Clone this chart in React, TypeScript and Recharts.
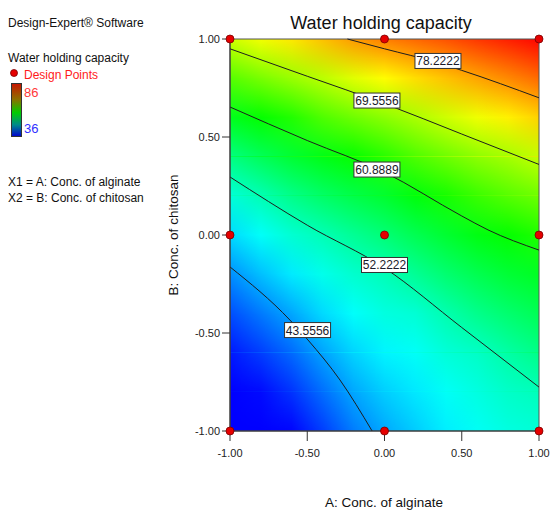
import React from "react";
import {
  ComposedChart,
  XAxis,
  YAxis,
  Line,
  Scatter,
  ReferenceArea,
  ReferenceDot,
} from "recharts";

const FONT = '"Liberation Sans", Arial, sans-serif';

// coded factor levels of the response grid
const gridX = [-1, -0.8, -0.6, -0.4, -0.2, 0, 0.2, 0.4, 0.6, 0.8, 1];
const gridY = [1, 0.8, 0.6, 0.4, 0.2, 0, -0.2, -0.4, -0.6, -0.8, -1];

// water holding capacity, one row per gridY value
const surface = [
  [71.0, 72.9, 74.6, 76.5, 78.4, 79.8, 80.9, 82.0, 83.3, 84.5, 85.7],
  [65.2, 66.9, 68.5, 70.1, 72.0, 73.6, 75.1, 76.5, 77.9, 79.3, 80.8],
  [59.6, 61.2, 62.6, 64.8, 66.4, 67.8, 69.4, 71.1, 72.7, 74.2, 75.7],
  [54.7, 56.7, 58.5, 59.9, 61.3, 62.9, 64.8, 66.4, 67.9, 69.1, 70.6],
  [50.4, 52.2, 54.3, 56.0, 57.4, 58.7, 60.4, 62.1, 63.8, 65.2, 66.4],
  [46.7, 48.8, 50.7, 52.1, 53.7, 55.2, 57.0, 58.6, 60.1, 61.2, 62.4],
  [43.0, 45.4, 47.5, 49.5, 50.9, 52.0, 53.7, 55.5, 57.1, 58.4, 59.3],
  [39.8, 42.0, 44.2, 46.7, 48.7, 50.0, 50.6, 52.4, 54.2, 55.6, 56.9],
  [37.2, 39.0, 41.2, 44.0, 46.4, 48.0, 48.9, 50.4, 51.3, 52.9, 54.4],
  [35.5, 36.5, 38.5, 41.4, 44.2, 46.1, 47.4, 48.9, 50.0, 51.2, 51.9],
  [34.0, 34.5, 36.2, 39.0, 42.1, 44.3, 46.0, 47.7, 49.0, 50.0, 50.5],
];

// contour lines
const contour78 = [
  { x: -0.24, y: 1.0 },
  { x: 0, y: 0.95 },
  { x: 0.34, y: 0.88 },
  { x: 0.5, y: 0.84 },
  { x: 1, y: 0.7 },
];
const contour70 = [
  { x: -1, y: 0.95 },
  { x: -0.5, y: 0.81 },
  { x: 0, y: 0.67 },
  { x: 0.5, y: 0.515 },
  { x: 1, y: 0.36 },
];
const contour61 = [
  { x: -1, y: 0.653 },
  { x: -0.5, y: 0.482 },
  { x: 0, y: 0.32 },
  { x: 0.5, y: 0.097 },
  { x: 0.67, y: 0.026 },
  { x: 1, y: -0.077 },
];
const contour52 = [
  { x: -1, y: 0.296 },
  { x: -0.5, y: 0.05 },
  { x: 0, y: -0.168 },
  { x: 0.5, y: -0.472 },
  { x: 1, y: -0.776 },
];
const contour44 = [
  { x: -1, y: -0.163 },
  { x: -0.612, y: -0.434 },
  { x: -0.495, y: -0.536 },
  { x: -0.288, y: -0.74 },
  { x: -0.08, y: -1.0 },
];
const contours = [contour78, contour70, contour61, contour52, contour44];

const contourLabels = [
  { x: 0.346, y: 0.888, text: "78.2222" },
  { x: -0.049, y: 0.686, text: "69.5556" },
  { x: -0.049, y: 0.334, text: "60.8889" },
  { x: 0.0, y: -0.153, text: "52.2222" },
  { x: -0.498, y: -0.485, text: "43.5556" },
];

const designPoints = [
  { x: -1, y: 1 },
  { x: 0, y: 1 },
  { x: 1, y: 1 },
  { x: -1, y: 0 },
  { x: 0, y: 0 },
  { x: 1, y: 0 },
  { x: -1, y: -1 },
  { x: 0, y: -1 },
  { x: 1, y: -1 },
];

const axisTicks = [-1, -0.5, 0, 0.5, 1];

const colorStops: [number, number[]][] = [
  [36, [0, 0, 255]],
  [48.5, [0, 255, 255]],
  [61, [0, 255, 0]],
  [73.5, [255, 255, 0]],
  [86, [255, 0, 0]],
];

function heatColor(v: number) {
  const t = Math.max(36, Math.min(86, v));
  for (let i = 0; i < colorStops.length - 1; i++) {
    const [a, ca] = colorStops[i];
    const [b, cb] = colorStops[i + 1];
    if (t <= b) {
      const f = (t - a) / (b - a);
      const c = ca.map((k, j) => Math.round(k + (cb[j] - k) * f));
      return `rgb(${c[0]},${c[1]},${c[2]})`;
    }
  }
  return "rgb(255,0,0)";
}

function Strip(props: any) {
  const { x, y, width, height, index } = props;
  return (
    <g shapeRendering="crispEdges">
      <rect x={x} y={y} width={width} height={height} fill={`url(#row${index})`} />
      <rect
        x={x}
        y={y}
        width={width}
        height={height}
        fill={`url(#row${index + 1})`}
        mask="url(#fadeMask)"
      />
    </g>
  );
}

function LabelBox(props: any) {
  const { cx, cy, text } = props;
  return (
    <g>
      <rect x={cx - 23} y={cy - 7.5} width={46} height={15} fill="#fff" stroke="#333" strokeWidth={1} />
      <text
        x={cx}
        y={cy + 4.5}
        textAnchor="middle"
        fontSize={12}
        fontFamily={FONT}
        fill="#1a1a2a"
      >
        {text}
      </text>
    </g>
  );
}

function DesignDot(props: any) {
  const { cx, cy } = props;
  return <circle cx={cx} cy={cy} r={4} fill="#e60000" stroke="#7a0000" strokeWidth={0.8} />;
}

export default function App() {
  const tickStyle = { fontSize: 11, fill: "#222", fontFamily: FONT };
  return (
    <div style={{ position: "absolute", left: 0, top: 0, width: 550, height: 512 }}>
      <ComposedChart
        width={550}
        height={512}
        margin={{ top: 39, right: 11, bottom: 51, left: 170 }}
      >
        <defs>
          {surface.map((row, i) => (
            <linearGradient id={`row${i}`} key={i} x1="0" y1="0" x2="1" y2="0">
              {row.map((v, j) => (
                <stop key={j} offset={(gridX[j] + 1) / 2} stopColor={heatColor(v)} />
              ))}
            </linearGradient>
          ))}
          <linearGradient id="fadeDown" x1="0" y1="0" x2="0" y2="1">
            <stop offset="0" stopColor="#fff" stopOpacity={0} />
            <stop offset="1" stopColor="#fff" stopOpacity={1} />
          </linearGradient>
          <mask
            id="fadeMask"
            maskUnits="objectBoundingBox"
            maskContentUnits="objectBoundingBox"
            x="0"
            y="0"
            width="1"
            height="1"
            style={{ maskType: "alpha" } as any}
          >
            <rect x="0" y="0" width="1" height="1" fill="url(#fadeDown)" />
          </mask>
        </defs>
        <XAxis
          type="number"
          dataKey="x"
          domain={[-1, 1]}
          ticks={axisTicks}
          tickFormatter={(v) => v.toFixed(2)}
          tick={tickStyle}
          tickSize={10}
          tickMargin={8}
          height={30}
          stroke="#333"
        />
        <YAxis
          type="number"
          dataKey="y"
          domain={[-1, 1]}
          ticks={axisTicks}
          tickFormatter={(v) => v.toFixed(2)}
          tick={tickStyle}
          tickSize={8}
          tickMargin={2}
          width={60}
          stroke="#333"
        />
        {gridY.slice(0, -1).map((yTop, i) => (
          <ReferenceArea
            key={`strip${i}`}
            x1={-1}
            x2={1}
            y1={gridY[i + 1]}
            y2={yTop}
            shape={(p: any) => <Strip {...p} index={i} />}
          />
        ))}
        <ReferenceArea
          x1={-1}
          x2={1}
          y1={-1}
          y2={1}
          fill="none"
          fillOpacity={0}
          stroke="#555"
          strokeWidth={1}
        />
        {contours.map((c, i) => (
          <Line
            key={`c${i}`}
            data={c}
            dataKey="y"
            type="monotone"
            stroke="#1e1e1e"
            strokeWidth={1}
            dot={false}
            activeDot={false}
            isAnimationActive={false}
          />
        ))}
        {contourLabels.map((l) => (
          <ReferenceDot
            key={l.text}
            x={l.x}
            y={l.y}
            r={1}
            shape={(p: any) => <LabelBox {...p} text={l.text} />}
          />
        ))}
        <Scatter data={designPoints} shape={DesignDot} isAnimationActive={false} />
      </ComposedChart>
      <svg
        width={550}
        height={512}
        style={{ position: "absolute", left: 0, top: 0, pointerEvents: "none" }}
        fontFamily={FONT}
      >
        <defs>
          <linearGradient id="legendBar" x1="0" y1="0" x2="0" y2="1">
            <stop offset="0" stopColor="#c81400" />
            <stop offset="0.3" stopColor="#8c7000" />
            <stop offset="0.55" stopColor="#00cc00" />
            <stop offset="0.78" stopColor="#008a8a" />
            <stop offset="1" stopColor="#0000d0" />
          </linearGradient>
        </defs>
        <text x={8} y={27} fontSize={12} fill="#111">Design-Expert® Software</text>
        <text x={8} y={62} fontSize={12} fill="#111">Water holding capacity</text>
        <circle cx={14} cy={73} r={3.5} fill="#e60000" stroke="#7a0000" strokeWidth={0.8} />
        <text x={24} y={79} fontSize={12} fill="#ff1a1a">Design Points</text>
        <rect x={11.5} y={83.5} width={10} height={53} fill="url(#legendBar)" stroke="#333" />
        <text x={24} y={97} fontSize={13} fill="#ff3838">86</text>
        <text x={24} y={133} fontSize={13} fill="#3030ff">36</text>
        <text x={8} y={186} fontSize={12} fill="#111">X1 = A: Conc. of alginate</text>
        <text x={8} y={202} fontSize={12} fill="#111">X2 = B: Conc. of chitosan</text>
        <text x={381} y={29} fontSize={18} textAnchor="middle" fill="#111">
          Water holding capacity
        </text>
        <text x={384} y={507} fontSize={13.5} textAnchor="middle" fill="#111">
          A: Conc. of alginate
        </text>
        <text
          x={0}
          y={0}
          fontSize={13.5}
          textAnchor="middle"
          fill="#111"
          transform="translate(178,235) rotate(-90)"
        >
          B: Conc. of chitosan
        </text>
      </svg>
    </div>
  );
}
